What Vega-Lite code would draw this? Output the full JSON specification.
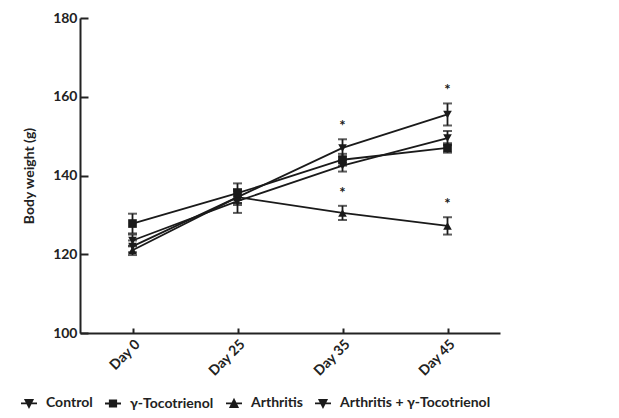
{
  "$schema": "https://vega.github.io/schema/vega-lite/v6.json",
  "width": 420,
  "height": 315,
  "autosize": {"type": "none"},
  "padding": {"left": 80, "top": 18, "right": 119, "bottom": 85},
  "background": "white",
  "config": {
    "font": "Lato",
    "view": {"stroke": null},
    "axis": {
      "domainColor": "#222222",
      "domainWidth": 2,
      "tickColor": "#222222",
      "tickWidth": 2,
      "grid": false,
      "labelFont": "Lato",
      "labelFontWeight": "bold",
      "labelFontSize": 14,
      "labelColor": "#222222",
      "titleFont": "Lato",
      "titleFontWeight": "bold",
      "titleFontSize": 14,
      "titleColor": "#222222"
    }
  },
  "data": {
    "values": [
      {"day": "Day 0", "group": "Control", "mean": 122.0, "lo": 120.5, "hi": 123.5, "sig": false},
      {"day": "Day 0", "group": "γ-Tocotrienol", "mean": 127.8, "lo": 125.3, "hi": 130.3, "sig": false},
      {"day": "Day 0", "group": "Arthritis", "mean": 121.0, "lo": 119.8, "hi": 122.2, "sig": false},
      {"day": "Day 0", "group": "Arthritis + γ-Tocotrienol", "mean": 123.5, "lo": 122.0, "hi": 125.0, "sig": false},
      {"day": "Day 25", "group": "Control", "mean": 134.5, "lo": 132.5, "hi": 136.5, "sig": false},
      {"day": "Day 25", "group": "γ-Tocotrienol", "mean": 135.5, "lo": 133.0, "hi": 138.0, "sig": false},
      {"day": "Day 25", "group": "Arthritis", "mean": 134.5, "lo": 133.0, "hi": 136.0, "sig": false},
      {"day": "Day 25", "group": "Arthritis + γ-Tocotrienol", "mean": 133.5, "lo": 130.5, "hi": 136.5, "sig": false},
      {"day": "Day 35", "group": "Control", "mean": 147.0, "lo": 144.8, "hi": 149.2, "sig": true},
      {"day": "Day 35", "group": "γ-Tocotrienol", "mean": 144.0, "lo": 142.5, "hi": 145.5, "sig": false},
      {"day": "Day 35", "group": "Arthritis", "mean": 130.5, "lo": 128.7, "hi": 132.3, "sig": true},
      {"day": "Day 35", "group": "Arthritis + γ-Tocotrienol", "mean": 142.5, "lo": 141.0, "hi": 144.0, "sig": false},
      {"day": "Day 45", "group": "Control", "mean": 155.5, "lo": 152.7, "hi": 158.3, "sig": true},
      {"day": "Day 45", "group": "γ-Tocotrienol", "mean": 147.0, "lo": 145.8, "hi": 148.2, "sig": false},
      {"day": "Day 45", "group": "Arthritis", "mean": 127.2, "lo": 125.0, "hi": 129.4, "sig": true},
      {"day": "Day 45", "group": "Arthritis + γ-Tocotrienol", "mean": 149.5, "lo": 147.7, "hi": 151.3, "sig": false}
    ]
  },
  "encoding": {
    "x": {
      "field": "day",
      "type": "ordinal",
      "sort": ["Day 0", "Day 25", "Day 35", "Day 45"],
      "scale": {"type": "point", "padding": 0.5},
      "axis": {
        "title": null,
        "labelAngle": -45,
        "labelAlign": "right",
        "labelBaseline": "top",
        "tickSize": -5,
        "labelPadding": 9
      }
    }
  },
  "layer": [
    {
      "mark": {"type": "line", "color": "#1a1a1a", "strokeWidth": 1.8},
      "encoding": {
        "y": {
          "field": "mean",
          "type": "quantitative",
          "title": "Body weight (g)",
          "scale": {"domain": [100, 180], "nice": false, "zero": false},
          "axis": {"values": [100, 120, 140, 160, 180], "tickSize": -8, "labelPadding": 11, "titlePadding": 16}
        },
        "detail": {"field": "group"}
      }
    },
    {
      "mark": {"type": "rule", "color": "#1a1a1a", "strokeWidth": 1.8},
      "encoding": {
        "y": {"field": "lo", "type": "quantitative", "title": "Body weight (g)",
          "axis": {"values": [100, 120, 140, 160, 180], "tickSize": -8, "labelPadding": 11, "titlePadding": 16}},
        "y2": {"field": "hi"}
      }
    },
    {
      "mark": {"type": "tick", "color": "#1a1a1a", "thickness": 2, "size": 9, "orient": "horizontal"},
      "encoding": {"y": {"field": "lo", "type": "quantitative", "title": "Body weight (g)",
        "axis": {"values": [100, 120, 140, 160, 180], "tickSize": -8, "labelPadding": 11, "titlePadding": 16}}}
    },
    {
      "mark": {"type": "tick", "color": "#1a1a1a", "thickness": 2, "size": 9, "orient": "horizontal"},
      "encoding": {"y": {"field": "hi", "type": "quantitative", "title": "Body weight (g)",
        "axis": {"values": [100, 120, 140, 160, 180], "tickSize": -8, "labelPadding": 11, "titlePadding": 16}}}
    },
    {
      "mark": {"type": "point", "filled": true, "color": "#1a1a1a", "size": 75, "opacity": 1},
      "encoding": {
        "y": {"field": "mean", "type": "quantitative", "title": "Body weight (g)",
          "axis": {"values": [100, 120, 140, 160, 180], "tickSize": -8, "labelPadding": 11, "titlePadding": 16}},
        "shape": {
          "field": "group",
          "scale": {
            "domain": ["Control", "γ-Tocotrienol", "Arthritis", "Arthritis + γ-Tocotrienol"],
            "range": ["triangle-down", "square", "triangle-up", "triangle-down"]
          },
          "legend": null
        }
      }
    },
    {
      "mark": {"type": "point", "filled": false, "color": "#1a1a1a", "strokeWidth": 1.8, "size": 256, "opacity": 0},
      "encoding": {
        "y": {"field": "mean", "type": "quantitative", "title": "Body weight (g)",
          "axis": {"values": [100, 120, 140, 160, 180], "tickSize": -8, "labelPadding": 11, "titlePadding": 16}},
        "shape": {
          "field": "group",
          "scale": {
            "domain": ["Control", "γ-Tocotrienol", "Arthritis", "Arthritis + γ-Tocotrienol"],
            "range": [
              "M-1,0L1,0M-0.45,-0.45L0.45,-0.45L0,0.45ZM-0.29,-0.345L0.29,-0.345L0,0.24ZM-0.135,-0.24L0.135,-0.24L0,0.03Z",
              "M-1,0L1,0M-0.4,-0.4L0.4,-0.4L0.4,0.4L-0.4,0.4ZM-0.25,-0.25L0.25,-0.25L0.25,0.25L-0.25,0.25ZM-0.1,-0.1L0.1,-0.1L0.1,0.1L-0.1,0.1Z",
              "M-1,0L1,0M-0.45,0.45L0.45,0.45L0,-0.45ZM-0.29,0.345L0.29,0.345L0,-0.24ZM-0.135,0.24L0.135,0.24L0,-0.03Z",
              "M-1,0L1,0M-0.45,-0.45L0.45,-0.45L0,0.45ZM-0.29,-0.345L0.29,-0.345L0,0.24ZM-0.135,-0.24L0.135,-0.24L0,0.03Z"
            ]
          },
          "legend": {
            "title": null,
            "orient": "none",
            "direction": "horizontal",
            "legendX": -60,
            "legendY": 376,
            "symbolSize": 256,
            "symbolOpacity": 1,
            "symbolStrokeColor": "#1a1a1a",
            "symbolStrokeWidth": 1.8,
            "labelFont": "Lato",
            "labelFontSize": 14,
            "labelFontWeight": "bold",
            "labelColor": "#222222",
            "labelOffset": 8,
            "columnPadding": 8,
            "labelLimit": 300
          }
        }
      }
    },
    {
      "transform": [{"filter": "datum.sig"}],
      "mark": {"type": "text", "text": "*", "fontSize": 15, "fontWeight": "bold", "baseline": "bottom", "dy": -5, "color": "#1a1a1a"},
      "encoding": {"y": {"field": "hi", "type": "quantitative", "title": "Body weight (g)",
        "axis": {"values": [100, 120, 140, 160, 180], "tickSize": -8, "labelPadding": 11, "titlePadding": 16}}}
    }
  ],
  "resolve": {"scale": {"shape": "independent"}}
}
